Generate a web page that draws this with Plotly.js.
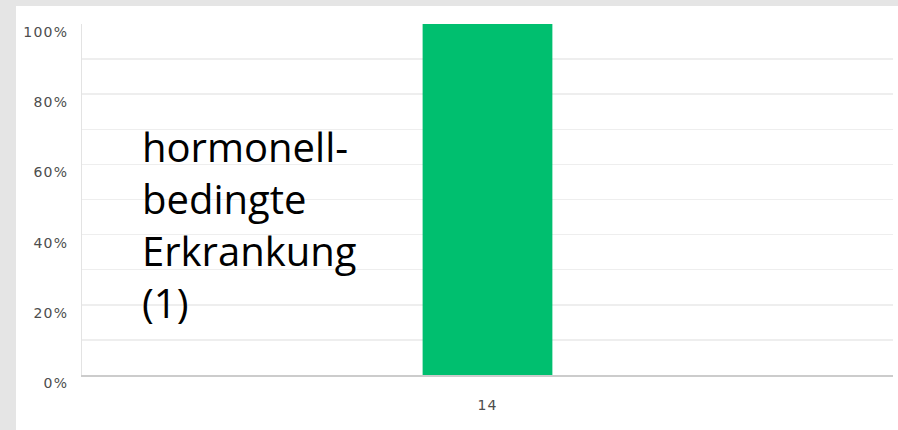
<!DOCTYPE html>
<html>
<head>
<meta charset="utf-8">
<script src="https://cdn.plot.ly/plotly-3.0.1.min.js"></script>
<style>
  html, body { margin: 0; padding: 0; background: #e5e5e5; width: 898px; height: 430px; overflow: hidden; }
  #chart { position: absolute; left: 16px; top: 6px; width: 882px; height: 424px; background: #ffffff; }
  .ytick text, .xtick text { letter-spacing: 1.2px; }
</style>
</head>
<body>
<div id="chart"></div>
<script>
// Data
const categories = ["14"];
const values = [1.0];               // share of responses (100%)
const yTickVals = [0, 0.2, 0.4, 0.6, 0.8, 1.0];
const yTickText = ["0%", "20%", "40%", "60%", "80%", "100%"];
const gridVals = [0.1, 0.2, 0.3, 0.4, 0.5, 0.6, 0.7, 0.8, 0.9];
const labelLines = ["hormonell-", "bedingte", "Erkrankung", "(1)"];

const bar = {
  type: "bar",
  x: categories,
  y: values,
  width: [0.16],
  marker: { color: "#00bf6f", line: { width: 0 } },
  hoverinfo: "none"
};

// invisible trace on second axis to draw the 10% gridlines
const gridTrace = {
  type: "scatter",
  x: categories,
  y: [0],
  yaxis: "y2",
  mode: "none",
  hoverinfo: "none",
  showlegend: false
};

const tickFont = { family: "DejaVu Sans, sans-serif", size: 14, color: "#4d4d4d" };

const layout = {
  width: 882,
  height: 424,
  margin: { l: 66, r: 5, t: 18, b: 55 },
  paper_bgcolor: "#ffffff",
  plot_bgcolor: "rgba(0,0,0,0)",
  showlegend: false,
  bargap: 0.84,
  xaxis: {
    type: "category",
    range: [-0.5, 0.5],
    showgrid: false,
    zeroline: false,
    showline: true,
    linecolor: "#cccccc",
    linewidth: 1.5,
    ticks: "",
    tickfont: tickFont,
    ticklabelstandoff: 17
  },
  yaxis: {
    range: [0, 1],
    tickvals: yTickVals,
    ticktext: yTickText,
    showgrid: false,
    zeroline: false,
    showline: true,
    linecolor: "#e3e3e3",
    linewidth: 1,
    ticks: "",
    tickfont: tickFont,
    ticklabelstandoff: 10,
    ticklabelshift: 8
  },
  yaxis2: {
    overlaying: "y",
    range: [0, 0.9999],
    tickvals: gridVals,
    showticklabels: false,
    showgrid: true,
    gridcolor: "#eeeeee",
    gridwidth: 1.5,
    zeroline: false,
    showline: false,
    ticks: "",
    layer: "below traces"
  },
  annotations: [{
    xref: "paper", yref: "paper",
    x: 0.071, y: 0.43,
    xanchor: "left", yanchor: "middle",
    align: "left",
    showarrow: false,
    text: labelLines.join("<br>"),
    font: { family: "Open Sans, sans-serif", size: 40, color: "#000000" }
  }]
};

Plotly.newPlot("chart", [gridTrace, bar], layout, { staticPlot: true, displayModeBar: false });
</script>
</body>
</html>
